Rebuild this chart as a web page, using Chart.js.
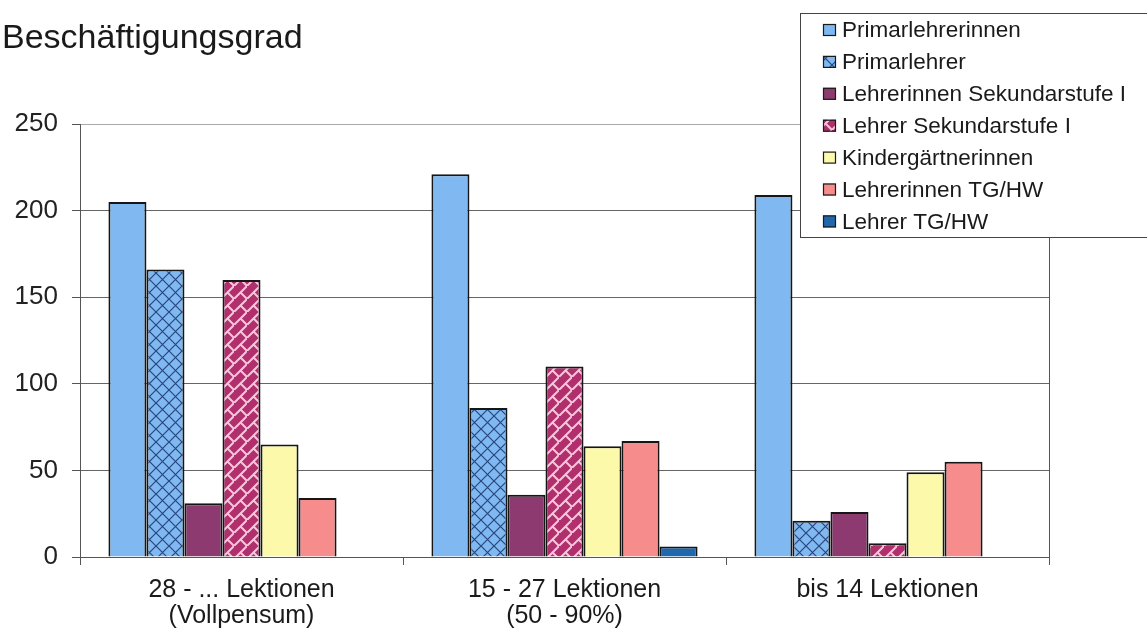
<!DOCTYPE html>
<html>
<head>
<meta charset="utf-8">
<script src="https://cdn.jsdelivr.net/npm/chart.js@4/dist/chart.umd.min.js"></script>
<style>
  html, body { margin: 0; padding: 0; background: #ffffff; }
  #wrap { width: 1147px; height: 632px; position: relative; }
</style>
</head>
<body>
<div id="wrap"><canvas id="c" width="1147" height="632"></canvas></div>
<script>
const chartTitle = 'Beschäftigungsgrad';
const categories = [['28 - ... Lektionen', '(Vollpensum)'], ['15 - 27 Lektionen', '(50 - 90%)'], ['bis 14 Lektionen']];
const seriesNames = ['Primarlehrerinnen', 'Primarlehrer', 'Lehrerinnen Sekundarstufe I', 'Lehrer Sekundarstufe I', 'Kindergärtnerinnen', 'Lehrerinnen TG/HW', 'Lehrer TG/HW'];
const primarlehrerinnen = [205, 221, 209];
const primarlehrer = [166, 86, 21];
const lehrerinnenSek = [31, 36, 26];
const lehrerSek = [160, 110, 8];
const kindergaertnerinnen = [65, 64, 49];
const lehrerinnenTGHW = [34, 67, 55];
const lehrerTGHW = [0, 6, 0];
const yTicks = [0, 50, 100, 150, 200, 250];

function makePattern(base, line, kind) {
  const n = 13;
  const t = document.createElement('canvas');
  t.width = n; t.height = n;
  const g = t.getContext('2d');
  g.fillStyle = base; g.fillRect(0, 0, n, n);
  g.strokeStyle = line; g.lineCap = 'square';
  g.beginPath();
  if (kind === 'lattice') {
    g.lineWidth = 1.2;
    g.moveTo(0, 0); g.lineTo(n, n);
    g.moveTo(n, 0); g.lineTo(0, n);
  } else {
    g.lineWidth = 2;
    g.moveTo(-1, n + 1); g.lineTo(n + 1, -1);
    g.moveTo(n / 2, n / 2); g.lineTo(n, n);
  }
  g.stroke();
  return document.createElement('canvas').getContext('2d').createPattern(t, 'repeat');
}

const fills = [
  '#80b8f1',
  makePattern('#80b8f1', '#27467c', 'lattice'),
  '#8c3a70',
  makePattern('#b02f6c', '#f6c6dc', 'brick'),
  '#fdf9aa',
  '#f68c8c',
  '#1f68ae'
];
const values = [primarlehrerinnen, primarlehrer, lehrerinnenSek, lehrerSek, kindergaertnerinnen, lehrerinnenTGHW, lehrerTGHW];

const datasets = seriesNames.map((name, i) => ({
  label: name,
  data: values[i],
  backgroundColor: fills[i],
  borderColor: '#161616',
  borderWidth: 2,
  categoryPercentage: 0.824,
  barPercentage: 1.0
}));

const extras = {
  id: 'extras',
  beforeDatasetsDraw(chart) {
    const { ctx, chartArea } = chart;
    ctx.save();
    ctx.strokeStyle = '#555';
    ctx.lineWidth = 1;
    ctx.beginPath();
    ctx.moveTo(chartArea.right + 0.5, chartArea.top);
    ctx.lineTo(chartArea.right + 0.5, chartArea.bottom);
    ctx.stroke();
    ctx.restore();
  },
  afterDraw(chart) {
    const { ctx } = chart;
    const bx = 800.5, by = 13.5, bw = 360, bh = 224;
    ctx.save();
    ctx.fillStyle = '#ffffff';
    ctx.fillRect(bx, by, bw, bh);
    ctx.strokeStyle = '#444';
    ctx.lineWidth = 1;
    ctx.strokeRect(bx, by, bw, bh);
    ctx.font = '22.5px "Liberation Sans", Arial, sans-serif';
    ctx.textBaseline = 'middle';
    ctx.textAlign = 'left';
    chart.data.datasets.forEach((ds, i) => {
      const cy = 30 + i * 31.9;
      ctx.fillStyle = ds.backgroundColor;
      ctx.fillRect(823, cy - 6, 13, 12);
      ctx.strokeStyle = '#1a1a1a';
      ctx.lineWidth = 1.2;
      ctx.strokeRect(823.5, cy - 5.5, 12, 11);
      ctx.fillStyle = '#1a1a1a';
      ctx.fillText(ds.label, 842, cy + 1);
    });
    ctx.restore();
  }
};

new Chart(document.getElementById('c'), {
  type: 'bar',
  data: { labels: categories, datasets },
  plugins: [extras],
  options: {
    responsive: false,
    animation: false,
    layout: { padding: { left: 2, right: 98, top: 0, bottom: 0 } },
    plugins: {
      legend: { display: false },
      tooltip: { enabled: false },
      title: {
        display: true,
        text: chartTitle,
        align: 'start',
        color: '#1a1a1a',
        font: { family: '"Liberation Sans", Arial, sans-serif', size: 34, weight: 'normal', lineHeight: 1.2 },
        padding: { top: 18, bottom: 65.2 }
      }
    },
    scales: {
      x: {
        grid: { offset: true, drawOnChartArea: false, color: '#555', tickLength: 8 },
        border: { color: '#555', width: 1 },
        ticks: {
          color: '#1a1a1a',
          padding: 12,
          maxRotation: 0,
          font: { family: '"Liberation Sans", Arial, sans-serif', size: 25, lineHeight: 1.04 }
        },
        afterFit(s) { s.height = 75; }
      },
      y: {
        min: 0,
        max: 250,
        afterBuildTicks(s) { s.ticks = yTicks.map(v => ({ value: v })); },
        grid: {
          color: (c) => (c.tick && c.tick.value === 250) ? '#aaa' : '#666',
          lineWidth: 1,
          tickLength: 8,
          tickColor: '#555'
        },
        border: { color: '#555', width: 1 },
        ticks: {
          color: '#222',
          padding: 14,
          font: { family: '"Liberation Sans", Arial, sans-serif', size: 26 }
        },
        afterFit(s) { s.width = 78; }
      }
    }
  }
});
</script>
</body>
</html>
